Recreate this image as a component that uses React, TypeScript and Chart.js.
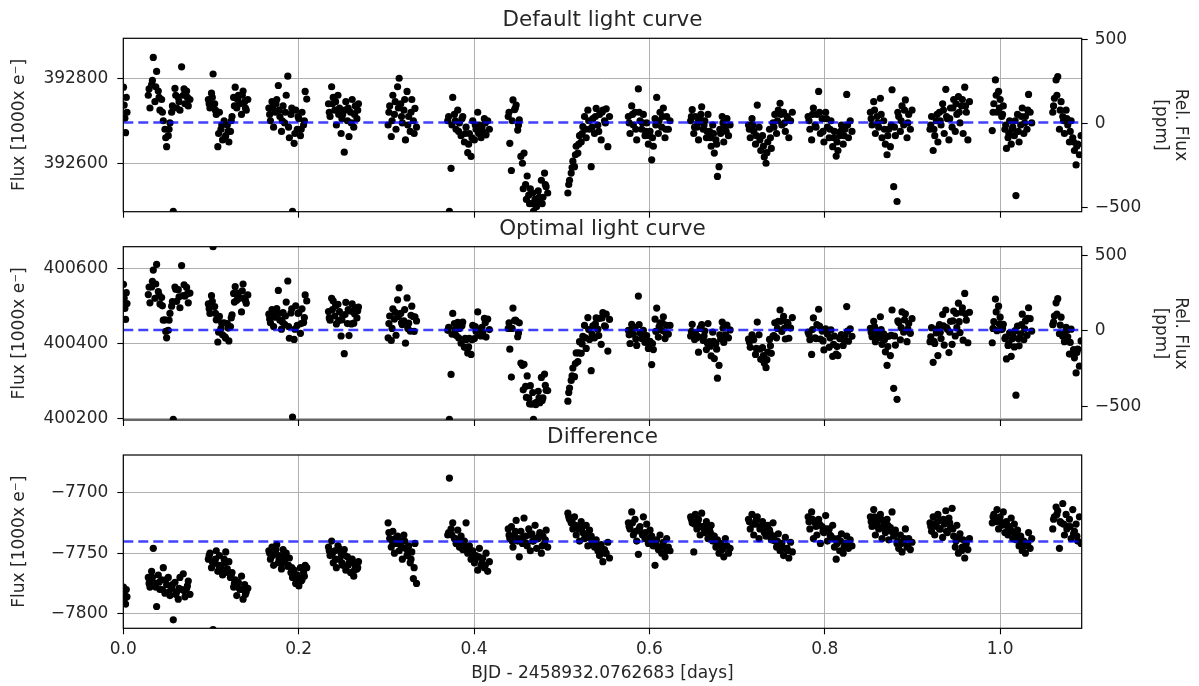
import React, { useEffect, useRef } from 'react';
import { Chart, registerables } from 'chart.js';

Chart.register(...registerables);

// ---------------- data ----------------
// Observation times, days after BJD 2458932.0762683 (one line per visit; second block = in-between samples)
const times = [
  0.0002, 0.0010, 0.0018, 0.0026, 0.0034, 0.0042,
  0.0285, 0.0304, 0.0323, 0.0342, 0.0361, 0.0380, 0.0399, 0.0418, 0.0437, 0.0456, 0.0475, 0.0494, 0.0513, 0.0532, 0.0551, 0.0570, 0.0589, 0.0608, 0.0627, 0.0646, 0.0665, 0.0684, 0.0703, 0.0722, 0.0741, 0.0760,
  0.0970, 0.0988, 0.1006, 0.1024, 0.1042, 0.1060, 0.1078, 0.1096, 0.1114, 0.1132, 0.1150, 0.1168, 0.1186, 0.1204, 0.1222, 0.1240, 0.1258, 0.1276, 0.1294, 0.1312, 0.1330, 0.1348, 0.1366, 0.1384, 0.1402, 0.1420,
  0.1660, 0.1678, 0.1696, 0.1714, 0.1732, 0.1750, 0.1768, 0.1786, 0.1804, 0.1822, 0.1840, 0.1858, 0.1876, 0.1894, 0.1912, 0.1930, 0.1948, 0.1966, 0.1984, 0.2002, 0.2020, 0.2038, 0.2056, 0.2074, 0.2092,
  0.2340, 0.2358, 0.2376, 0.2394, 0.2412, 0.2430, 0.2448, 0.2466, 0.2484, 0.2502, 0.2520, 0.2538, 0.2556, 0.2574, 0.2592, 0.2610, 0.2628, 0.2646, 0.2664, 0.2682,
  0.3020, 0.3038, 0.3056, 0.3074, 0.3092, 0.3110, 0.3128, 0.3146, 0.3164, 0.3182, 0.3200, 0.3218, 0.3236, 0.3254, 0.3272, 0.3290, 0.3308, 0.3326, 0.3344,
  0.3700, 0.3719, 0.3738, 0.3757, 0.3776, 0.3795, 0.3814, 0.3833, 0.3852, 0.3871, 0.3890, 0.3909, 0.3928, 0.3947, 0.3966, 0.3985, 0.4004, 0.4023, 0.4042, 0.4061, 0.4080, 0.4099, 0.4118, 0.4137, 0.4156, 0.4175,
  0.4390, 0.4408, 0.4426, 0.4444, 0.4462, 0.4480, 0.4498, 0.4516, 0.4534, 0.4552, 0.4570, 0.4588, 0.4606, 0.4624, 0.4642, 0.4660, 0.4678, 0.4696, 0.4714, 0.4732, 0.4750, 0.4768, 0.4786, 0.4804, 0.4822, 0.4840,
  0.5070, 0.5089, 0.5108, 0.5127, 0.5146, 0.5165, 0.5184, 0.5203, 0.5222, 0.5241, 0.5260, 0.5279, 0.5298, 0.5317, 0.5336, 0.5355, 0.5374, 0.5393, 0.5412, 0.5431, 0.5450, 0.5469, 0.5488, 0.5507, 0.5526, 0.5545,
  0.5760, 0.5779, 0.5798, 0.5817, 0.5836, 0.5855, 0.5874, 0.5893, 0.5912, 0.5931, 0.5950, 0.5969, 0.5988, 0.6007, 0.6026, 0.6045, 0.6064, 0.6083, 0.6102, 0.6121, 0.6140, 0.6159, 0.6178, 0.6197, 0.6216, 0.6235,
  0.6470, 0.6488, 0.6506, 0.6524, 0.6542, 0.6560, 0.6578, 0.6596, 0.6614, 0.6632, 0.6650, 0.6668, 0.6686, 0.6704, 0.6722, 0.6740, 0.6758, 0.6776, 0.6794, 0.6812, 0.6830, 0.6848, 0.6866, 0.6884, 0.6902, 0.6920,
  0.7130, 0.7150, 0.7170, 0.7190, 0.7210, 0.7230, 0.7250, 0.7270, 0.7290, 0.7310, 0.7330, 0.7350, 0.7370, 0.7390, 0.7410, 0.7430, 0.7450, 0.7470, 0.7490, 0.7510, 0.7530, 0.7550, 0.7570, 0.7590, 0.7610, 0.7630,
  0.7810, 0.7830, 0.7850, 0.7870, 0.7890, 0.7910, 0.7930, 0.7950, 0.7970, 0.7990, 0.8010, 0.8030, 0.8050, 0.8070, 0.8090, 0.8110, 0.8130, 0.8150, 0.8170, 0.8190, 0.8210, 0.8230, 0.8250, 0.8270, 0.8290, 0.8310,
  0.8520, 0.8539, 0.8558, 0.8577, 0.8596, 0.8615, 0.8634, 0.8653, 0.8672, 0.8691, 0.8710, 0.8729, 0.8748, 0.8767, 0.8786, 0.8805, 0.8824, 0.8843, 0.8862, 0.8881, 0.8900, 0.8919, 0.8938, 0.8957, 0.8976, 0.8995,
  0.9200, 0.9218, 0.9236, 0.9254, 0.9272, 0.9290, 0.9308, 0.9326, 0.9344, 0.9362, 0.9380, 0.9398, 0.9416, 0.9434, 0.9452, 0.9470, 0.9488, 0.9506, 0.9524, 0.9542, 0.9560, 0.9578, 0.9596, 0.9614, 0.9632, 0.9650,
  0.9910, 0.9928, 0.9946, 0.9964, 0.9982, 1.0000, 1.0018, 1.0036, 1.0054, 1.0072, 1.0090, 1.0108, 1.0126, 1.0144, 1.0162, 1.0180, 1.0198, 1.0216, 1.0234, 1.0252, 1.0270, 1.0288, 1.0306, 1.0324, 1.0342, 1.0360,
  1.0600, 1.0619, 1.0638, 1.0657, 1.0676, 1.0695, 1.0714, 1.0733, 1.0752, 1.0771, 1.0790, 1.0809, 1.0828, 1.0847, 1.0866, 1.0885, 1.0904, 1.0923,
  0.0294, 0.0332, 0.0370, 0.0408, 0.0446, 0.0484, 0.0522, 0.0560, 0.0598, 0.0636, 0.0693, 0.0731,
  0.0979, 0.1015, 0.1051, 0.1087, 0.1123, 0.1159, 0.1195, 0.1231, 0.1267, 0.1303, 0.1357, 0.1393,
  0.1669, 0.1705, 0.1741, 0.1777, 0.1813, 0.1849, 0.1885, 0.1921, 0.1957, 0.1993, 0.2029, 0.2065,
  0.2349, 0.2385, 0.2421, 0.2457, 0.2493, 0.2529, 0.2565, 0.2601, 0.2637, 0.2673,
  0.3029, 0.3065, 0.3101, 0.3137, 0.3173, 0.3209, 0.3245, 0.3281, 0.3317,
  0.3710, 0.3748, 0.3786, 0.3824, 0.3862, 0.3900, 0.3938, 0.3976, 0.4014, 0.4052, 0.4090, 0.4128,
  0.4399, 0.4435, 0.4471, 0.4507, 0.4561, 0.4597, 0.4633, 0.4669, 0.4705, 0.4741, 0.4777, 0.4813,
  0.5080, 0.5118, 0.5156, 0.5194, 0.5232, 0.5270, 0.5308, 0.5346, 0.5384, 0.5422, 0.5460, 0.5498,
  0.5769, 0.5807, 0.5845, 0.5883, 0.5921, 0.5959, 0.5997, 0.6035, 0.6073, 0.6111, 0.6149, 0.6187,
  0.6479, 0.6515, 0.6551, 0.6587, 0.6623, 0.6659, 0.6695, 0.6731, 0.6767, 0.6803, 0.6839, 0.6875,
  0.7140, 0.7180, 0.7220, 0.7260, 0.7300, 0.7340, 0.7380, 0.7420, 0.7460, 0.7500, 0.7540, 0.7580,
  0.7820, 0.7860, 0.7900, 0.7940, 0.7980, 0.8020, 0.8060, 0.8100, 0.8140, 0.8180, 0.8220, 0.8260,
  0.8529, 0.8567, 0.8605, 0.8643, 0.8681, 0.8719, 0.8757, 0.8795, 0.8833, 0.8871, 0.8909, 0.8947,
  0.9209, 0.9245, 0.9281, 0.9317, 0.9353, 0.9389, 0.9425, 0.9461, 0.9497, 0.9533, 0.9569, 0.9605,
  0.9919, 0.9955, 0.9991, 1.0027, 1.0063, 1.0099, 1.0135, 1.0171, 1.0207, 1.0243, 1.0279, 1.0315,
  1.0609, 1.0647, 1.0685, 1.0723, 1.0761, 1.0799, 1.0837, 1.0875,
];

// Default aperture flux [1000 x e-]
const defaultFlux = [
  392779, 392737, 392706, 392672, 392755, 392720,
  392760, 392730, 392785, 392849, 392745, 392816, 392770, 392725, 392750, 392700, 392680, 392639, 392665, 392695, 392720, 392487, 392776, 392730, 392755, 392725, 392827, 392760, 392740, 392770, 392735, 392750,
  392750, 392730, 392765, 392810, 392740, 392715, 392639, 392720, 392680, 392655, 392700, 392665, 392690, 392650, 392675, 392710, 392755, 392779, 392730, 392760, 392740, 392715, 392770, 392745, 392725, 392750,
  392730, 392700, 392745, 392685, 392720, 392750, 392783, 392710, 392675, 392735, 392695, 392760, 392805, 392660, 392715, 392487, 392647, 392725, 392680, 392705, 392665, 392720, 392690, 392769, 392751,
  392740, 392710, 392780, 392755, 392725, 392690, 392760, 392730, 392670, 392715, 392626, 392745, 392700, 392663, 392720, 392750, 392685, 392735, 392705, 392740,
  392690, 392735, 392663, 392760, 392715, 392680, 392780, 392800, 392740, 392695, 392725, 392655, 392769, 392710, 392675, 392750, 392700, 392729, 392685,
  392700, 392487, 392588, 392755, 392715, 392680, 392725, 392695, 392665, 392710, 392650, 392685, 392625, 392670, 392616, 392700, 392655, 392680, 392720, 392690, 392660, 392675, 392705, 392667, 392700, 392680,
  392710, 392647, 392583, 392749, 392726, 392737, 392678, 392702, 392616, 392600, 392624, 392550, 392570, 392525, 392540, 392505, 392487, 392515, 392498, 392535, 392510, 392560, 392520, 392577, 392545, 392530,
  392530, 392560, 392577, 392605, 392592, 392640, 392624, 392665, 392650, 392686, 392710, 392660, 392725, 392680, 392592, 392705, 392670, 392729, 392690, 392715, 392655, 392725, 392700, 392728, 392639, 392710,
  392710, 392670, 392735, 392690, 392720, 392655, 392775, 392700, 392680, 392715, 392665, 392695, 392645, 392675, 392608, 392640, 392705, 392755, 392670, 392720, 392685, 392730, 392660, 392710, 392680, 392700,
  392700, 392726, 392670, 392710, 392685, 392655, 392705, 392733, 392680, 392700, 392660, 392715, 392675, 392640, 392690, 392624, 392655, 392569, 392592, 392670, 392710, 392650, 392685, 392705, 392665, 392690,
  392690, 392660, 392705, 392675, 392645, 392737, 392685, 392630, 392665, 392615, 392600, 392650, 392680, 392635, 392695, 392715, 392670, 392725, 392741, 392690, 392720, 392675, 392710, 392660, 392700, 392720,
  392710, 392680, 392655, 392730, 392690, 392715, 392769, 392670, 392705, 392650, 392720, 392685, 392660, 392700, 392639, 392675, 392617, 392630, 392665, 392690, 392645, 392680, 392762, 392660, 392700, 392675,
  392720, 392690, 392745, 392670, 392710, 392685, 392753, 392660, 392700, 392645, 392620, 392680, 392639, 392773, 392545, 392665, 392510, 392710, 392675, 392735, 392690, 392749, 392660, 392715, 392680, 392725,
  392680, 392710, 392630, 392665, 392700, 392650, 392720, 392690, 392740, 392670, 392774, 392705, 392655, 392730, 392685, 392750, 392675, 392715, 392757, 392695, 392735, 392670, 392779, 392720, 392655, 392745,
  392677, 392740, 392796, 392720, 392769, 392750, 392710, 392735, 392680, 392635, 392660, 392700, 392645, 392685, 392665, 392524, 392715, 392650, 392690, 392730, 392670, 392710, 392680, 392762, 392720, 392695,
  392720, 392753, 392796, 392804, 392680, 392745, 392710, 392670, 392725, 392690, 392650, 392700, 392660, 392630, 392596, 392645, 392620, 392665,
  392775, 392795, 392780, 392755, 392720, 392660, 392680, 392735, 392760, 392745, 392775, 392755,
  392740, 392755, 392725, 392670, 392690, 392660, 392675, 392700, 392735, 392750, 392760, 392730,
  392715, 392730, 392740, 392725, 392700, 392720, 392685, 392730, 392670, 392710, 392680, 392700,
  392720, 392740, 392745, 392715, 392705, 392725, 392730, 392695, 392715, 392725,
  392720, 392700, 392745, 392730, 392710, 392750, 392690, 392720, 392670,
  392710, 392690, 392700, 392675, 392705, 392670, 392645, 392660, 392690, 392670, 392685, 392695,
  392720, 392700, 392730, 392690, 392540, 392515, 392505, 392530, 392500, 392520, 392505, 392550,
  392550, 392590, 392620, 392645, 392670, 392680, 392700, 392685, 392710, 392675, 392720, 392695,
  392695, 392715, 392680, 392720, 392695, 392675, 392665, 392660, 392690, 392700, 392710, 392680,
  392710, 392685, 392695, 392715, 392690, 392675, 392660, 392670, 392645, 392680, 392695, 392675,
  392680, 392690, 392665, 392655, 392640, 392625, 392660, 392685, 392700, 392715, 392695, 392705,
  392700, 392715, 392685, 392720, 392675, 392705, 392680, 392660, 392650, 392675, 392665, 392690,
  392705, 392725, 392695, 392715, 392680, 392665, 392690, 392685, 392720, 392700, 392725, 392695,
  392690, 392680, 392715, 392700, 392725, 392710, 392705, 392730, 392740, 392720, 392750, 392735,
  392720, 392760, 392730, 392715, 392690, 392670, 392680, 392700, 392675, 392710, 392695, 392725,
  392735, 392760, 392725, 392700, 392705, 392675, 392650, 392640,
];

// Optimal aperture flux [1000 x e-]
const optimalFlux = [
  400557, 400520, 400493, 400464, 400535, 400506,
  400530, 400508, 400550, 400595, 400520, 400610, 400538, 400505, 400522, 400462, 400463, 400415, 400435, 400480, 400499, 400199, 400550, 400512, 400543, 400495, 400607, 400527, 400526, 400549, 400508, 400534,
  400505, 400480, 400527, 400657, 400498, 400463, 400404, 400472, 400440, 400423, 400455, 400414, 400453, 400407, 400445, 400476, 400533, 400551, 400515, 400534, 400520, 400484, 400558, 400521, 400507, 400529,
  400478, 400455, 400490, 400445, 400470, 400493, 400541, 400462, 400438, 400482, 400451, 400510, 400566, 400414, 400481, 400205, 400411, 400500, 400448, 400482, 400427, 400492, 400456, 400529, 400513,
  400485, 400462, 400520, 400513, 400473, 400452, 400504, 400485, 400420, 400475, 400373, 400509, 400453, 400421, 400486, 400505, 400454, 400495, 400468, 400497,
  400415, 400473, 400408, 400492, 400465, 400422, 400516, 400548, 400480, 400450, 400460, 400401, 400521, 400454, 400433, 400499, 400471, 400471, 400460,
  400435, 400199, 400318, 400480, 400453, 400422, 400456, 400440, 400401, 400457, 400390, 400410, 400375, 400414, 400371, 400448, 400413, 400432, 400484, 400436, 400420, 400429, 400467, 400417, 400465, 400437,
  400440, 400385, 400311, 400494, 400461, 400460, 400418, 400455, 400348, 400342, 400345, 400286, 400314, 400255, 400288, 400239, 400199, 400242, 400244, 400273, 400243, 400310, 400256, 400319, 400276, 400275,
  400247, 400282, 400302, 400335, 400312, 400375, 400352, 400405, 400374, 400419, 400448, 400387, 400469, 400411, 400328, 400447, 400415, 400468, 400438, 400467, 400398, 400482, 400447, 400478, 400380, 400464,
  400435, 400400, 400451, 400425, 400442, 400395, 400526, 400428, 400413, 400435, 400403, 400421, 400387, 400406, 400344, 400384, 400465, 400494, 400417, 400455, 400435, 400471, 400413, 400448, 400425, 400448,
  400420, 400451, 400419, 400428, 400415, 400377, 400440, 400450, 400408, 400433, 400384, 400453, 400405, 400367, 400430, 400360, 400400, 400308, 400342, 400412, 400457, 400403, 400423, 400449, 400415, 400436,
  400412, 400390, 400423, 400410, 400371, 400457, 400423, 400358, 400389, 400348, 400336, 400377, 400411, 400374, 400420, 400455, 400415, 400459, 400489, 400432, 400472, 400412, 400456, 400414, 400441, 400469,
  400430, 400410, 400371, 400468, 400415, 400450, 400491, 400412, 400433, 400383, 400439, 400425, 400390, 400436, 400366, 400420, 400372, 400368, 400413, 400424, 400395, 400422, 400498, 400406, 400439, 400419,
  400440, 400418, 400459, 400405, 400434, 400415, 400471, 400398, 400426, 400378, 400342, 400419, 400368, 400489, 400281, 400396, 400252, 400456, 400410, 400484, 400430, 400479, 400405, 400453, 400427, 400466,
  400405, 400442, 400350, 400400, 400428, 400368, 400450, 400413, 400477, 400396, 400489, 400438, 400376, 400459, 400398, 400486, 400420, 400442, 400507, 400429, 400483, 400409, 400533, 400462, 400402, 400483,
  400402, 400458, 400518, 400434, 400499, 400470, 400437, 400451, 400413, 400359, 400395, 400428, 400366, 400423, 400391, 400263, 400446, 400394, 400426, 400478, 400410, 400460, 400422, 400495, 400466, 400433,
  400450, 400473, 400508, 400519, 400426, 400470, 400419, 400405, 400443, 400418, 400372, 400438, 400374, 400362, 400322, 400385, 400340, 400407,
  400550, 400565, 400558, 400529, 400500, 400432, 400462, 400511, 400544, 400524, 400556, 400532,
  400492, 400512, 400480, 400430, 400454, 400418, 400441, 400468, 400510, 400528, 400540, 400514,
  400465, 400482, 400487, 400480, 400458, 400473, 400445, 400492, 400438, 400480, 400453, 400469,
  400468, 400490, 400500, 400461, 400463, 400477, 400490, 400452, 400479, 400487,
  400453, 400440, 400483, 400472, 400455, 400490, 400440, 400475, 400432,
  400443, 400425, 400438, 400415, 400447, 400414, 400391, 400410, 400445, 400423, 400443, 400455,
  400455, 400440, 400462, 400428, 400277, 400257, 400240, 400270, 400238, 400256, 400249, 400289,
  400270, 400314, 400347, 400375, 400399, 400415, 400437, 400425, 400452, 400421, 400468, 400445,
  400423, 400440, 400412, 400450, 400430, 400408, 400403, 400400, 400432, 400445, 400454, 400428,
  400432, 400411, 400419, 400443, 400420, 400402, 400393, 400406, 400385, 400423, 400441, 400419,
  400404, 400416, 400387, 400385, 400368, 400357, 400394, 400421, 400440, 400459, 400441, 400453,
  400424, 400437, 400413, 400446, 400407, 400435, 400415, 400398, 400392, 400415, 400410, 400433,
  400429, 400445, 400423, 400437, 400410, 400392, 400422, 400420, 400460, 400442, 400463, 400439,
  400418, 400406, 400439, 400430, 400447, 400442, 400430, 400460, 400480, 400458, 400495, 400479,
  400440, 400484, 400452, 400440, 400417, 400400, 400412, 400434, 400413, 400450, 400439, 400467,
  400457, 400478, 400449, 400426, 400435, 400403, 400384, 400376,
];

// Difference (default - optimal) [1000 x e-]
const diffFlux = [
  -7778, -7783, -7787, -7792, -7780, -7786,
  -7770, -7778, -7765, -7746, -7775, -7794, -7768, -7780, -7772, -7762, -7783, -7776, -7770, -7785, -7779, -7805, -7774, -7782, -7788, -7770, -7780, -7767, -7786, -7779, -7773, -7784,
  -7755, -7750, -7762, -7813, -7758, -7748, -7765, -7752, -7760, -7768, -7755, -7749, -7763, -7757, -7770, -7766, -7778, -7772, -7785, -7774, -7780, -7769, -7788, -7776, -7782, -7779,
  -7748, -7755, -7745, -7760, -7750, -7743, -7758, -7752, -7763, -7747, -7756, -7750, -7761, -7754, -7766, -7770, -7764, -7775, -7768, -7777, -7762, -7772, -7766, -7760, -7762,
  -7745, -7752, -7740, -7758, -7748, -7762, -7744, -7755, -7750, -7760, -7747, -7764, -7753, -7758, -7766, -7755, -7769, -7760, -7763, -7757,
  -7725, -7738, -7745, -7732, -7750, -7742, -7736, -7748, -7740, -7755, -7735, -7746, -7752, -7744, -7758, -7749, -7771, -7742, -7775,
  -7735, -7688, -7730, -7725, -7738, -7742, -7731, -7745, -7736, -7747, -7740, -7725, -7750, -7744, -7755, -7748, -7758, -7752, -7764, -7746, -7760, -7754, -7762, -7750, -7765, -7757,
  -7730, -7738, -7728, -7745, -7735, -7723, -7740, -7753, -7732, -7742, -7721, -7736, -7744, -7730, -7748, -7734, -7740, -7727, -7746, -7738, -7733, -7750, -7736, -7742, -7731, -7745,
  -7717, -7722, -7725, -7730, -7720, -7735, -7728, -7740, -7724, -7733, -7738, -7727, -7744, -7731, -7736, -7742, -7745, -7739, -7748, -7752, -7743, -7757, -7747, -7750, -7741, -7754,
  -7725, -7730, -7716, -7735, -7722, -7740, -7751, -7728, -7733, -7720, -7738, -7726, -7742, -7731, -7736, -7744, -7760, -7739, -7747, -7735, -7750, -7741, -7753, -7738, -7745, -7748,
  -7720, -7725, -7749, -7718, -7730, -7722, -7735, -7717, -7728, -7733, -7724, -7738, -7730, -7727, -7740, -7736, -7745, -7739, -7750, -7742, -7747, -7753, -7738, -7744, -7750, -7746,
  -7722, -7730, -7718, -7735, -7726, -7720, -7738, -7728, -7724, -7733, -7736, -7727, -7731, -7739, -7725, -7740, -7745, -7734, -7748, -7742, -7752, -7737, -7746, -7754, -7741, -7749,
  -7720, -7730, -7716, -7738, -7725, -7735, -7722, -7742, -7728, -7733, -7719, -7740, -7730, -7736, -7727, -7745, -7755, -7738, -7748, -7734, -7750, -7742, -7736, -7746, -7739, -7744,
  -7720, -7728, -7714, -7735, -7724, -7730, -7718, -7738, -7726, -7733, -7722, -7739, -7729, -7716, -7736, -7731, -7742, -7746, -7735, -7749, -7740, -7730, -7745, -7738, -7747, -7741,
  -7725, -7732, -7720, -7735, -7728, -7718, -7730, -7723, -7737, -7726, -7715, -7733, -7721, -7729, -7713, -7736, -7745, -7727, -7750, -7734, -7748, -7739, -7754, -7742, -7747, -7738,
  -7725, -7718, -7722, -7714, -7730, -7720, -7727, -7716, -7733, -7724, -7735, -7728, -7721, -7738, -7726, -7739, -7731, -7744, -7736, -7748, -7740, -7750, -7742, -7733, -7746, -7738,
  -7730, -7720, -7712, -7715, -7746, -7725, -7709, -7735, -7718, -7728, -7722, -7738, -7714, -7732, -7726, -7740, -7720, -7742,
  -7775, -7770, -7778, -7774, -7780, -7772, -7782, -7776, -7784, -7779, -7781, -7777,
  -7752, -7757, -7755, -7760, -7764, -7758, -7766, -7768, -7775, -7778, -7780, -7784,
  -7750, -7752, -7747, -7755, -7758, -7753, -7760, -7762, -7768, -7770, -7773, -7769,
  -7748, -7750, -7755, -7746, -7758, -7752, -7760, -7757, -7764, -7762,
  -7733, -7740, -7738, -7742, -7745, -7740, -7750, -7755, -7762,
  -7733, -7735, -7738, -7740, -7742, -7744, -7746, -7750, -7755, -7753, -7758, -7760,
  -7735, -7740, -7732, -7738, -7737, -7742, -7735, -7740, -7738, -7736, -7744, -7739,
  -7720, -7724, -7727, -7730, -7729, -7735, -7737, -7740, -7742, -7746, -7748, -7750,
  -7728, -7725, -7732, -7730, -7735, -7733, -7738, -7740, -7742, -7745, -7744, -7748,
  -7722, -7726, -7724, -7728, -7730, -7727, -7733, -7736, -7740, -7743, -7746, -7744,
  -7724, -7726, -7722, -7730, -7728, -7732, -7734, -7736, -7740, -7744, -7746, -7748,
  -7724, -7722, -7728, -7726, -7732, -7730, -7735, -7738, -7742, -7740, -7745, -7743,
  -7724, -7720, -7728, -7722, -7730, -7727, -7732, -7735, -7740, -7742, -7738, -7744,
  -7728, -7726, -7724, -7730, -7722, -7732, -7725, -7730, -7740, -7738, -7745, -7744,
  -7720, -7724, -7722, -7725, -7727, -7730, -7732, -7734, -7738, -7740, -7744, -7742,
  -7722, -7718, -7724, -7726, -7730, -7728, -7734, -7736,
];

// Median levels (dashed lines)
const meanLevels = [392696, 400436, -7740.4];
const panelTitles = ['Default light curve', 'Optimal light curve', 'Difference'];
const yRanges = [
  [392486, 392894],
  [400197, 400657],
  [-7812, -7669],
];
const ppmRanges = [
  [-527, 507],
  [-591, 559],
];
// Tick values
const defaultTicks = [392600, 392800];
const optimalTicks = [400200, 400400, 400600];
const diffTicks = [-7800, -7750, -7700];
const ppmTicks = [-500, 0, 500];
const xTicks = [0, 0.2, 0.4, 0.6, 0.8, 1.0];
const xRange = [0, 1.093];
const yTitle = 'Flux [1000x e\u207B]';
const ppmTitle = ['Rel. Flux', '[ppm]'];
const xTitle = 'BJD - 2458932.0762683 [days]';

// ---------------- styling / layout ----------------
const W = 1199;
const H = 686;
const FONT = 'DejaVu Sans';
const TEXT = '#262626';
const GRID = '#b0b0b0';
const LEFT_W = 123.3;
const RIGHT_W = 117.3;

type Layout = { top: number; bottom: number; xh: number; showX: boolean; showRight: boolean };
const layouts: Layout[] = [
  { top: 38.3, bottom: 211.7, xh: 18, showX: false, showRight: true },
  { top: 246.7, bottom: 420, xh: 18, showX: false, showRight: true },
  { top: 455, bottom: 628.3, xh: H - 628.3, showX: true, showRight: false },
];

const minus = (s: string) => s.replace('-', '\u2212');
const asTicks = (vals: number[]) => vals.map((v) => ({ value: v }));

const panelDecor = {
  id: 'panelDecor',
  afterDatasetsDraw(chart: any, _args: any, opts: any) {
    const { ctx, chartArea: a } = chart;
    ctx.save();
    ctx.strokeStyle = '#000';
    ctx.lineWidth = 1.2;
    ctx.strokeRect(a.left, a.top, a.right - a.left, a.bottom - a.top);
    ctx.fillStyle = TEXT;
    ctx.font = `21.5px "${FONT}"`;
    ctx.textAlign = 'center';
    ctx.textBaseline = 'alphabetic';
    ctx.fillText(opts.title, (a.left + a.right) / 2, a.top - 12);
    ctx.restore();
  },
};

function makeConfig(i: number): any {
  const L = layouts[i];
  const values = [defaultFlux, optimalFlux, diffFlux][i];
  const leftTicks = [defaultTicks, optimalTicks, diffTicks][i];
  const mean = meanLevels[i];
  const [ymin, ymax] = yRanges[i];
  const points = times.map((t, k) => ({ x: t, y: values[k] }));
  const meanLine = [
    { x: xRange[0], y: mean },
    { x: xRange[1], y: mean },
  ];
  const tickFont = { family: FONT, size: 17 };
  const scales: any = {
    x: {
      type: 'linear',
      position: 'bottom',
      min: xRange[0],
      max: xRange[1],
      afterBuildTicks: (s: any) => {
        s.ticks = asTicks(xTicks);
      },
      afterFit: (s: any) => {
        s.height = L.xh;
      },
      border: { display: false },
      grid: { color: GRID, lineWidth: 1, tickLength: 6, tickColor: '#000', tickWidth: 1.1 },
      ticks: {
        display: L.showX,
        autoSkip: false,
        maxRotation: 0,
        font: tickFont,
        color: TEXT,
        padding: 5,
        callback: (v: any) => Number(v).toFixed(1),
      },
      title: {
        display: L.showX,
        text: xTitle,
        font: tickFont,
        color: TEXT,
        padding: { top: 0, bottom: 2 },
      },
    },
    y: {
      type: 'linear',
      position: 'left',
      min: ymin,
      max: ymax,
      afterBuildTicks: (s: any) => {
        s.ticks = asTicks(leftTicks);
      },
      afterFit: (s: any) => {
        s.width = LEFT_W;
      },
      border: { display: false },
      grid: { color: GRID, lineWidth: 1, tickLength: 6, tickColor: '#000', tickWidth: 1.1 },
      ticks: {
        autoSkip: false,
        font: tickFont,
        color: TEXT,
        padding: 9,
        callback: (v: any) => minus(String(v)),
      },
      title: { display: true, text: yTitle, font: tickFont, color: TEXT, padding: { top: 9, bottom: 0 } },
    },
  };
  if (L.showRight) {
    scales.y2 = {
      type: 'linear',
      position: 'right',
      min: ppmRanges[i][0],
      max: ppmRanges[i][1],
      afterBuildTicks: (s: any) => {
        s.ticks = asTicks(ppmTicks);
      },
      afterFit: (s: any) => {
        s.width = RIGHT_W;
      },
      border: { display: false },
      grid: { drawOnChartArea: false, tickLength: 6, tickColor: '#000', tickWidth: 1.1 },
      ticks: {
        autoSkip: false,
        font: tickFont,
        color: TEXT,
        padding: 7,
        callback: (v: any) => minus(String(v)),
      },
      title: { display: true, text: ppmTitle, font: tickFont, color: TEXT, padding: { top: 8, bottom: 0 } },
    };
  }
  return {
    type: 'scatter',
    data: {
      datasets: [
        {
          type: 'line',
          data: meanLine,
          borderColor: 'rgba(0, 0, 255, 0.75)',
          borderWidth: 2.6,
          borderDash: [10, 5],
          pointRadius: 0,
          fill: false,
          order: 0,
          clip: 0,
          xAxisID: 'x',
          yAxisID: 'y',
        },
        {
          data: points,
          pointRadius: 3.6,
          pointBackgroundColor: '#000',
          pointBorderWidth: 0,
          order: 1,
          clip: 0,
          xAxisID: 'x',
          yAxisID: 'y',
        },
      ],
    },
    options: {
      responsive: false,
      maintainAspectRatio: false,
      devicePixelRatio: 1,
      animation: false,
      events: [],
      layout: {
        padding: {
          top: L.top,
          left: 0,
          right: L.showRight ? 0 : RIGHT_W,
          bottom: H - L.bottom - L.xh,
        },
      },
      plugins: {
        legend: { display: false },
        tooltip: { enabled: false },
        title: { display: false },
        panelDecor: { title: panelTitles[i] },
      },
      scales,
    },
    plugins: [panelDecor],
  };
}

export default function App() {
  const r0 = useRef<HTMLCanvasElement>(null);
  const r1 = useRef<HTMLCanvasElement>(null);
  const r2 = useRef<HTMLCanvasElement>(null);
  const refs = [r0, r1, r2];

  useEffect(() => {
    Chart.defaults.font.family = FONT;
    const charts = refs.map((r, i) => new Chart(r.current as HTMLCanvasElement, makeConfig(i)));
    return () => charts.forEach((c) => c.destroy());
  }, []);

  return (
    <div style={{ position: 'absolute', left: 0, top: 0, width: W, height: H, background: '#fff' }}>
      {refs.map((r, i) => (
        <canvas
          key={i}
          ref={r}
          width={W}
          height={H}
          style={{ position: 'absolute', left: 0, top: 0, width: W, height: H }}
        />
      ))}
    </div>
  );
}
